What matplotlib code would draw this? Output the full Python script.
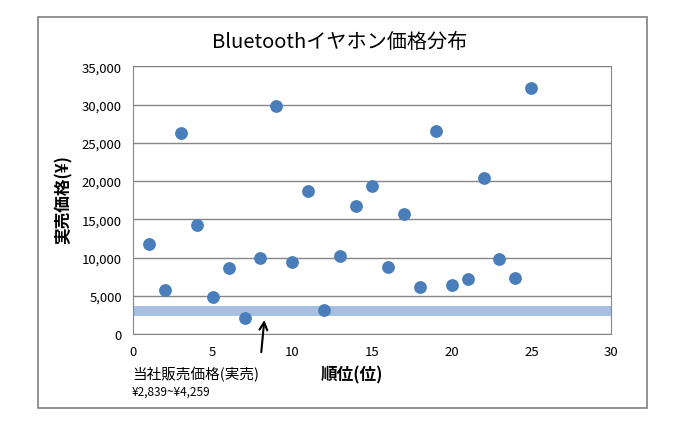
import matplotlib
matplotlib.use("Agg")
import matplotlib.pyplot as plt
from matplotlib.patches import Rectangle

plt.rcParams['font.family'] = ['Noto Sans CJK JP', 'DejaVu Sans']

# data
rank = [1, 2, 3, 4, 5, 6, 7, 8, 9, 10, 11, 12, 13, 14, 15, 16, 17, 18, 19, 20, 21, 22, 23, 24, 25]
price = [11800, 5700, 26300, 14300, 4900, 8600, 2100, 9900, 29800, 9400, 18700, 3200, 10200,
         16800, 19400, 8700, 15700, 6200, 26600, 6400, 7200, 20400, 9800, 7300, 32200]
band_lo, band_hi = 2400, 3700
yticks = [0, 5000, 10000, 15000, 20000, 25000, 30000, 35000]
xticks = [0, 5, 10, 15, 20, 25, 30]

fig = plt.figure(figsize=(6.84, 4.31), dpi=100)
# outer chart border
fig.patches.append(Rectangle((37.5 / 684, 1 - 409 / 431), (647 - 37.5) / 684, (409 - 18) / 431,
                             transform=fig.transFigure, fill=False, edgecolor='#808080', lw=1.2))

ax = fig.add_axes([133 / 684, 1 - 335 / 431, (611 - 133) / 684, (335 - 67.3) / 431])
ax.axhspan(band_lo, band_hi, color='#a7c0e2', zorder=1, lw=0)
ax.scatter(rank, price, s=85, color='#4a7ebb', zorder=3, lw=0)

ax.set_xlim(0, 30)
ax.set_ylim(0, 35000)
ax.set_xticks(xticks)
ax.set_yticks(yticks)
ax.set_yticklabels([f'{v:,}' for v in yticks])
ax.tick_params(length=0, labelsize=9.5, pad=8)
ax.yaxis.grid(True, color='#868686', lw=1)
ax.set_axisbelow(True)
for s in ax.spines.values():
    s.set_color('#868686')

fig.text(340 / 684, 1 - 42 / 431, 'Bluetoothイヤホン価格分布', ha='center', va='center', fontsize=14.5)
fig.text(64 / 684, 1 - 200 / 431, '実売価格(¥)', ha='center', va='center', rotation=90,
         fontsize=12, fontweight='bold')
fig.text(352 / 684, 1 - 375 / 431, '順位(位)', ha='center', va='center', fontsize=12, fontweight='bold')
fig.text(132 / 684, 1 - 375 / 431, '当社販売価格(実売)', ha='left', va='center', fontsize=10.5)
fig.text(132 / 684, 1 - 392 / 431, '¥2,839~¥4,259', ha='left', va='center', fontsize=8.5)

ax.annotate('', xy=(8.26, 2200), xytext=(0.2678, -0.078), textcoords='axes fraction',
            arrowprops=dict(arrowstyle='->', color='black', lw=1.5, mutation_scale=14),
            annotation_clip=False)

fig.savefig('out.png', dpi=100)
